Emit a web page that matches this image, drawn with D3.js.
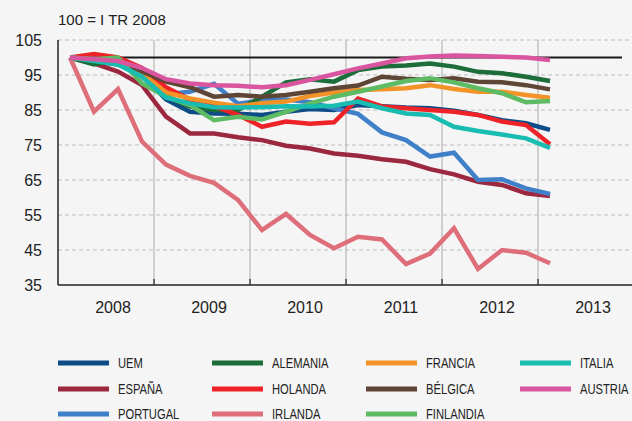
<!DOCTYPE html>
<html>
<head>
<meta charset="utf-8">
<script src="https://cdn.jsdelivr.net/npm/d3@7"></script>
<style>
  body { margin: 0; background: #f5f5f5; }
  svg { display: block; }
  .lbl { font-family: "Liberation Sans", Arial, sans-serif; fill: #222; }
  .leg { font-family: "Liberation Sans", Arial, sans-serif; font-size: 14px; fill: #222; }
</style>
</head>
<body>
<svg id="chart" width="632" height="421"></svg>
<script>
// quarterly index, 100 = 2008 Q1, from 2008 Q1 to 2013 Q1
const years = [2008, 2009, 2010, 2011, 2012, 2013];
const yTicks = [35, 45, 55, 65, 75, 85, 95, 105];

const uem      = [100, 99, 98, 95, 88, 84.5, 84, 83.9, 83.6, 84.5, 85.3, 85, 86.4, 86.1, 85.7, 85.5, 84.8, 83.6, 82.1, 81.2, 79.3];
const espana   = [100, 98.3, 96, 92.1, 83.1, 78.3, 78.3, 77.2, 76.4, 74.8, 74, 72.6, 71.9, 70.9, 70.2, 68.1, 66.6, 64.5, 63.6, 61.2, 60.4];
const portugal = [100, 99.8, 98.5, 95.5, 89.5, 90.2, 92.5, 86.8, 87.7, 88, 87.2, 85.5, 83.9, 78.6, 76.4, 71.7, 72.8, 65, 65.2, 62.6, 61];
const alemania = [100, 98, 99.5, 95, 89, 86, 85, 85, 88.8, 92.9, 93.8, 93.1, 96.4, 97.4, 97.7, 98.3, 97.4, 95.9, 95.5, 94.5, 93.3];
const holanda  = [100, 101, 100, 97, 91.5, 87.9, 86.1, 83.6, 80.2, 81.7, 81.1, 81.5, 88.3, 86, 85.5, 85, 84.5, 83.6, 81.7, 80.7, 75.2];
const irlanda  = [100, 84.5, 91, 76, 69.4, 66.2, 64.2, 59.3, 50.7, 55.3, 49.3, 45.5, 48.8, 48, 41, 44, 51.2, 39.6, 45, 44.2, 41.2];
const francia  = [100, 99.5, 99, 95.5, 90, 88.3, 87.1, 86.1, 86.9, 87.4, 89, 90, 90.7, 90.9, 91.2, 92.1, 91, 90.2, 90.2, 89.3, 88.5];
const belgica  = [100, 99.5, 99, 96, 93.1, 91.5, 88.8, 89.3, 88.8, 89.3, 90.2, 91.2, 92, 94.5, 93.9, 93.6, 94.1, 93.1, 92.9, 92.1, 90.9];
const finlandia= [100, 99.5, 100, 92.6, 88.8, 86.4, 82.1, 83.1, 82.3, 84.5, 86.8, 88.8, 90.2, 91.7, 93.3, 94.1, 92.9, 91.2, 89.8, 87.2, 87.6];
const italia   = [100, 99, 98, 94.5, 88.5, 86.9, 85.8, 85.7, 85.8, 86.1, 86, 86.2, 87.4, 85.5, 84, 83.6, 80.2, 79, 78, 76.9, 74.2];
const austria  = [100, 99.5, 99, 97, 93.8, 92.6, 92.1, 91.9, 91.5, 92.1, 93.6, 95.2, 96.9, 98.3, 99.8, 100.3, 100.6, 100.4, 100.2, 100, 99.3];

// legend order (reading by row)
const legendNames = ["UEM", "ALEMANIA", "FRANCIA", "ITALIA", "ESPAÑA", "HOLANDA", "BÉLGICA", "AUSTRIA", "PORTUGAL", "IRLANDA", "FINLANDIA"];

const series = [
  { name: "UEM", color: "#0d4c86", values: uem },
  { name: "ESPAÑA", color: "#9c2840", values: espana },
  { name: "PORTUGAL", color: "#3f80c8", values: portugal },
  { name: "ALEMANIA", color: "#1d6d3a", values: alemania },
  { name: "HOLANDA", color: "#ee2328", values: holanda },
  { name: "IRLANDA", color: "#de6f7a", values: irlanda },
  { name: "FRANCIA", color: "#f39327", values: francia },
  { name: "BÉLGICA", color: "#5f4536", values: belgica },
  { name: "FINLANDIA", color: "#5dbb63", values: finlandia },
  { name: "ITALIA", color: "#19bcb0", values: italia },
  { name: "AUSTRIA", color: "#d9559f", values: austria }
];
const colorOf = {};
series.forEach(s => colorOf[s.name] = s.color);

const svg = d3.select("#chart");
const plotL = 58, plotR = 632, plotT = 40, plotB = 285;

const x = d3.scaleLinear().domain([2008, 2014]).range([plotL, plotL + 96 * 6]);
const y = d3.scaleLinear().domain([35, 105]).range([plotB, plotT]);
const qx = i => x(2008 + (i + 0.5) / 4);

svg.append("rect").attr("width", 632).attr("height", 421).attr("fill", "#f5f5f5");

// horizontal dashed grid
svg.append("g").selectAll("line")
  .data(yTicks.filter(d => d > 35))
  .join("line")
  .attr("x1", plotL).attr("x2", plotR)
  .attr("y1", d => y(d)).attr("y2", d => y(d))
  .attr("stroke", "#bdbdbd").attr("stroke-width", 1.2)
  .attr("stroke-dasharray", "4,3");

// vertical year grid
svg.append("g").selectAll("line")
  .data(years.slice(1))
  .join("line")
  .attr("x1", d => x(d)).attr("x2", d => x(d))
  .attr("y1", plotT).attr("y2", plotB)
  .attr("stroke", "#aaaaaa").attr("stroke-width", 1);

// year ticks on bottom axis
svg.append("g").selectAll("line")
  .data(years.slice(1))
  .join("line")
  .attr("x1", d => x(d)).attr("x2", d => x(d))
  .attr("y1", plotB - 6).attr("y2", plotB)
  .attr("stroke", "#222").attr("stroke-width", 1.2);

// axes lines
svg.append("line").attr("x1", plotL).attr("x2", plotL).attr("y1", plotT).attr("y2", plotB)
  .attr("stroke", "#222").attr("stroke-width", 1.5);
svg.append("line").attr("x1", plotL).attr("x2", plotR).attr("y1", plotB).attr("y2", plotB)
  .attr("stroke", "#222").attr("stroke-width", 1.5);

// y labels
svg.append("g").selectAll("text")
  .data(yTicks)
  .join("text")
  .attr("class", "lbl")
  .attr("x", 42).attr("y", d => y(d) + 5.5)
  .attr("text-anchor", "end")
  .attr("font-size", 16)
  .text(d => d);

// x labels
svg.append("g").selectAll("text")
  .data(years)
  .join("text")
  .attr("class", "lbl")
  .attr("x", d => x(d + 0.5) + 7).attr("y", 313)
  .attr("text-anchor", "middle")
  .attr("font-size", 16)
  .text(d => d);

svg.append("text").attr("class", "lbl")
  .attr("x", 58).attr("y", 25)
  .attr("font-size", 15).attr("fill", "#333")
  .text("100 = I TR 2008");

// reference line at 100
svg.append("line")
  .attr("x1", qx(0)).attr("x2", qx(23))
  .attr("y1", y(100)).attr("y2", y(100))
  .attr("stroke", "#1a1a1a").attr("stroke-width", 2);

const line = d3.line().x((d, i) => qx(i)).y(d => y(d));

svg.append("g").selectAll("path")
  .data(series)
  .join("path")
  .attr("d", d => line(d.values))
  .attr("fill", "none")
  .attr("stroke", d => d.color)
  .attr("stroke-width", 4.5)
  .attr("stroke-linejoin", "miter");

// legend
const colX = [58, 212, 366, 520];
const rowY = [363, 389, 414];
const leg = svg.append("g").selectAll("g")
  .data(legendNames)
  .join("g")
  .attr("transform", (d, i) => `translate(${colX[i % 4]},${rowY[Math.floor(i / 4)]})`);
leg.append("line")
  .attr("x1", 0).attr("x2", 51).attr("y1", 0).attr("y2", 0)
  .attr("stroke", d => colorOf[d]).attr("stroke-width", 5);
// condensed look: squeeze the regular face horizontally
leg.append("text")
  .attr("class", "leg")
  .attr("transform", "translate(60,5) scale(0.8,1)")
  .text(d => d);
</script>
</body>
</html>
